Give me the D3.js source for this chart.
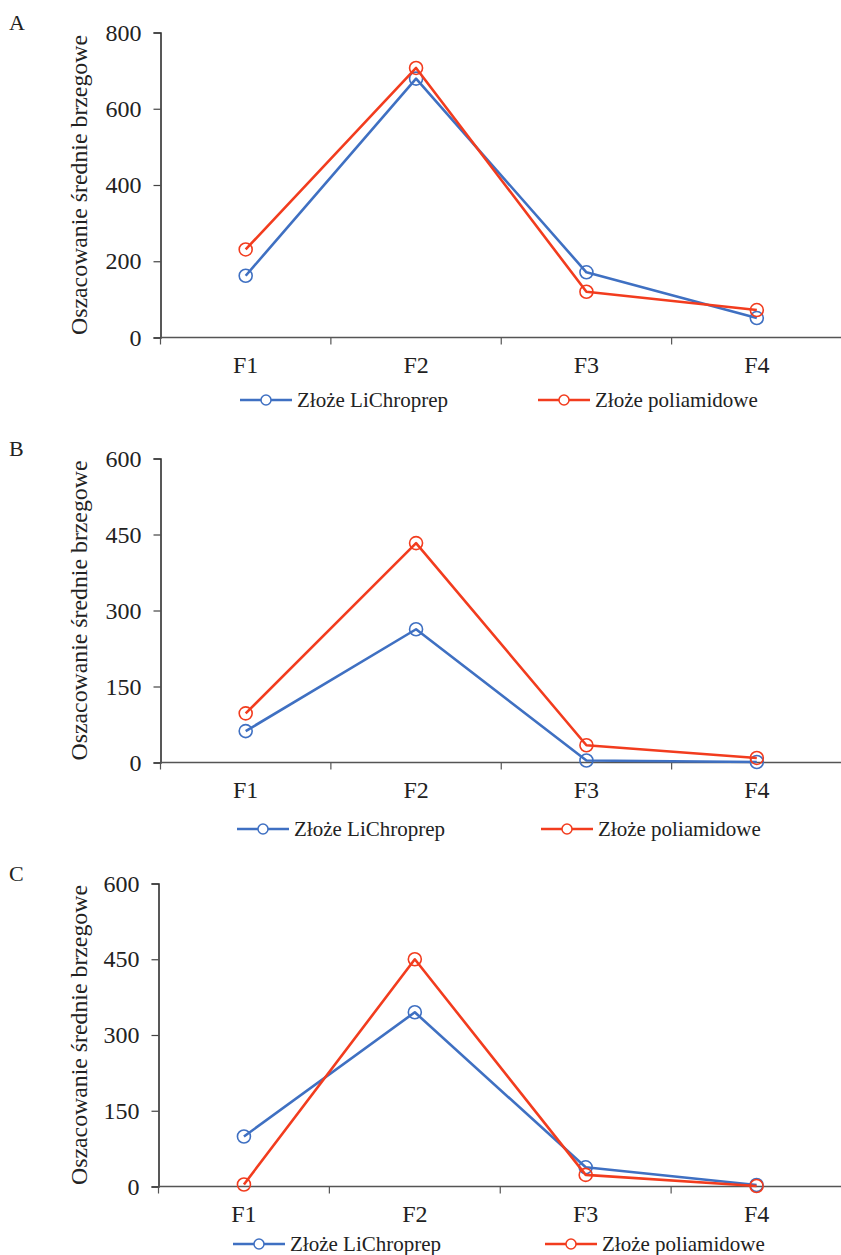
<!DOCTYPE html>
<html>
<head>
<meta charset="utf-8">
<script src="https://cdn.jsdelivr.net/npm/d3@7"></script>
<style>
  body { margin: 0; background: #fff; }
</style>
</head>
<body>
<div id="chart"></div>
<script>
// categories and series
let categories = ["F1", "F2", "F3", "F4"];
let seriesNames = ["Złoże LiChroprep", "Złoże poliamidowe"];

let panelLabels = ["A", "B", "C"];
let yMax = [800, 600, 600];
let yTicks = [[0, 200, 400, 600, 800], [0, 150, 300, 450, 600], [0, 150, 300, 450, 600]];

let lichroprepA = [162, 679, 171, 51];
let poliamidA = [231, 707, 120, 72];
let lichroprepB = [62, 263, 4, 1];
let poliamidB = [97, 433, 34, 9];
let lichroprepC = [99, 345, 38, 3];
let poliamidC = [4, 450, 23, 1];

let colors = ["#3F70C2", "#F23C1E"];
let serif = "Liberation Serif";

let panels = [
  {label: panelLabels[0], max: yMax[0], ticks: yTicks[0], series: [lichroprepA, poliamidA],
   top: 32.5, bottom: 337.5, left: 160.5, legendY: 400, legendX: [240, 538]},
  {label: panelLabels[1], max: yMax[1], ticks: yTicks[1], series: [lichroprepB, poliamidB],
   top: 458.5, bottom: 762.5, left: 160.5, legendY: 829, legendX: [237, 541]},
  {label: panelLabels[2], max: yMax[2], ticks: yTicks[2], series: [lichroprepC, poliamidC],
   top: 883.5, bottom: 1186.5, left: 158.5, legendY: 1244, legendX: [233, 545]}
];

let W = 841, H = 1255, right = 842;

var svg = d3.select("#chart")
  .append("svg")
    .attr("width", W)
    .attr("height", H)
    .attr("font-family", serif);

panels.forEach(function(p) {
  let g = svg.append("g");

  // Scales
  let x = d3.scaleBand()
    .domain(categories)
    .range([p.left, right]);
  let y = d3.scaleLinear()
    .domain([0, p.max])
    .range([p.bottom, p.top]);

  // Panel letter
  g.append("text")
    .attr("x", 9)
    .attr("y", p.top - 3)
    .attr("font-family", serif)
    .attr("font-size", 22)
    .attr("fill", "#222")
    .text(p.label);

  // Y axis
  let yAxis = g.append("g")
    .attr("transform", "translate(" + p.left + ",0)")
    .call(d3.axisLeft(y).tickValues(p.ticks).tickSize(7).tickPadding(12))
    .attr("font-family", serif)
    .attr("font-size", 24);
  yAxis.select(".domain").attr("stroke", "#222").attr("stroke-width", 1.5);
  yAxis.selectAll(".tick line").attr("stroke", "#444").attr("stroke-width", 1.2);
  yAxis.selectAll("text").attr("fill", "#222");

  // X axis: ticks on band boundaries, labels at centers
  let xAxisG = g.append("g")
    .attr("transform", "translate(0," + p.bottom + ")");
  xAxisG.append("line")
    .attr("x1", p.left).attr("x2", right)
    .attr("stroke", "#555").attr("stroke-width", 1.5);
  xAxisG.selectAll(".xtick")
    .data(categories)
    .enter()
    .append("line")
      .attr("class", "xtick")
      .attr("x1", d => x(d)).attr("x2", d => x(d))
      .attr("y1", 0).attr("y2", 7)
      .attr("stroke", "#555").attr("stroke-width", 1.2);
  xAxisG.selectAll(".xlabel")
    .data(categories)
    .enter()
    .append("text")
      .attr("class", "xlabel")
      .attr("x", d => x(d) + x.bandwidth() / 2)
      .attr("y", 35)
      .attr("text-anchor", "middle")
      .attr("fill", "#222")
      .attr("font-family", serif)
      .attr("font-size", 24)
      .text(d => d);

  // Y axis title
  g.append("text")
    .attr("transform", "translate(87," + (p.top + p.bottom) / 2 + ") rotate(-90)")
    .attr("text-anchor", "middle")
    .attr("fill", "#222")
    .attr("font-family", serif)
    .attr("font-size", 23.8)
    .text("Oszacowanie średnie brzegowe");

  // Lines and markers
  let line = d3.line()
    .x((d, i) => x(categories[i]) + x.bandwidth() / 2)
    .y(d => y(d));

  p.series.forEach(function(values, si) {
    g.append("path")
      .datum(values)
      .attr("fill", "none")
      .attr("stroke", colors[si])
      .attr("stroke-width", 2.6)
      .attr("stroke-linejoin", "round")
      .attr("d", line);
    g.selectAll(".pt" + si)
      .data(values)
      .enter()
      .append("circle")
        .attr("class", "pt" + si)
        .attr("cx", (d, i) => x(categories[i]) + x.bandwidth() / 2)
        .attr("cy", d => y(d))
        .attr("r", 6.5)
        .attr("fill", "none")
        .attr("stroke", colors[si])
        .attr("stroke-width", 1.6);
  });

  // Legend
  seriesNames.forEach(function(name, si) {
    let lx = p.legendX[si];
    let lg = g.append("g").attr("transform", "translate(" + lx + "," + p.legendY + ")");
    lg.append("line")
      .attr("x1", 0).attr("x2", 52)
      .attr("stroke", colors[si]).attr("stroke-width", 2.6);
    lg.append("circle")
      .attr("cx", 26).attr("r", 5)
      .attr("fill", "#fff")
      .attr("stroke", colors[si]).attr("stroke-width", 1.5);
    lg.append("text")
      .attr("x", 57)
      .attr("y", 7)
      .attr("fill", "#222")
      .attr("font-family", serif)
      .attr("font-size", 21)
      .text(name);
  });
});
</script>
</body>
</html>
